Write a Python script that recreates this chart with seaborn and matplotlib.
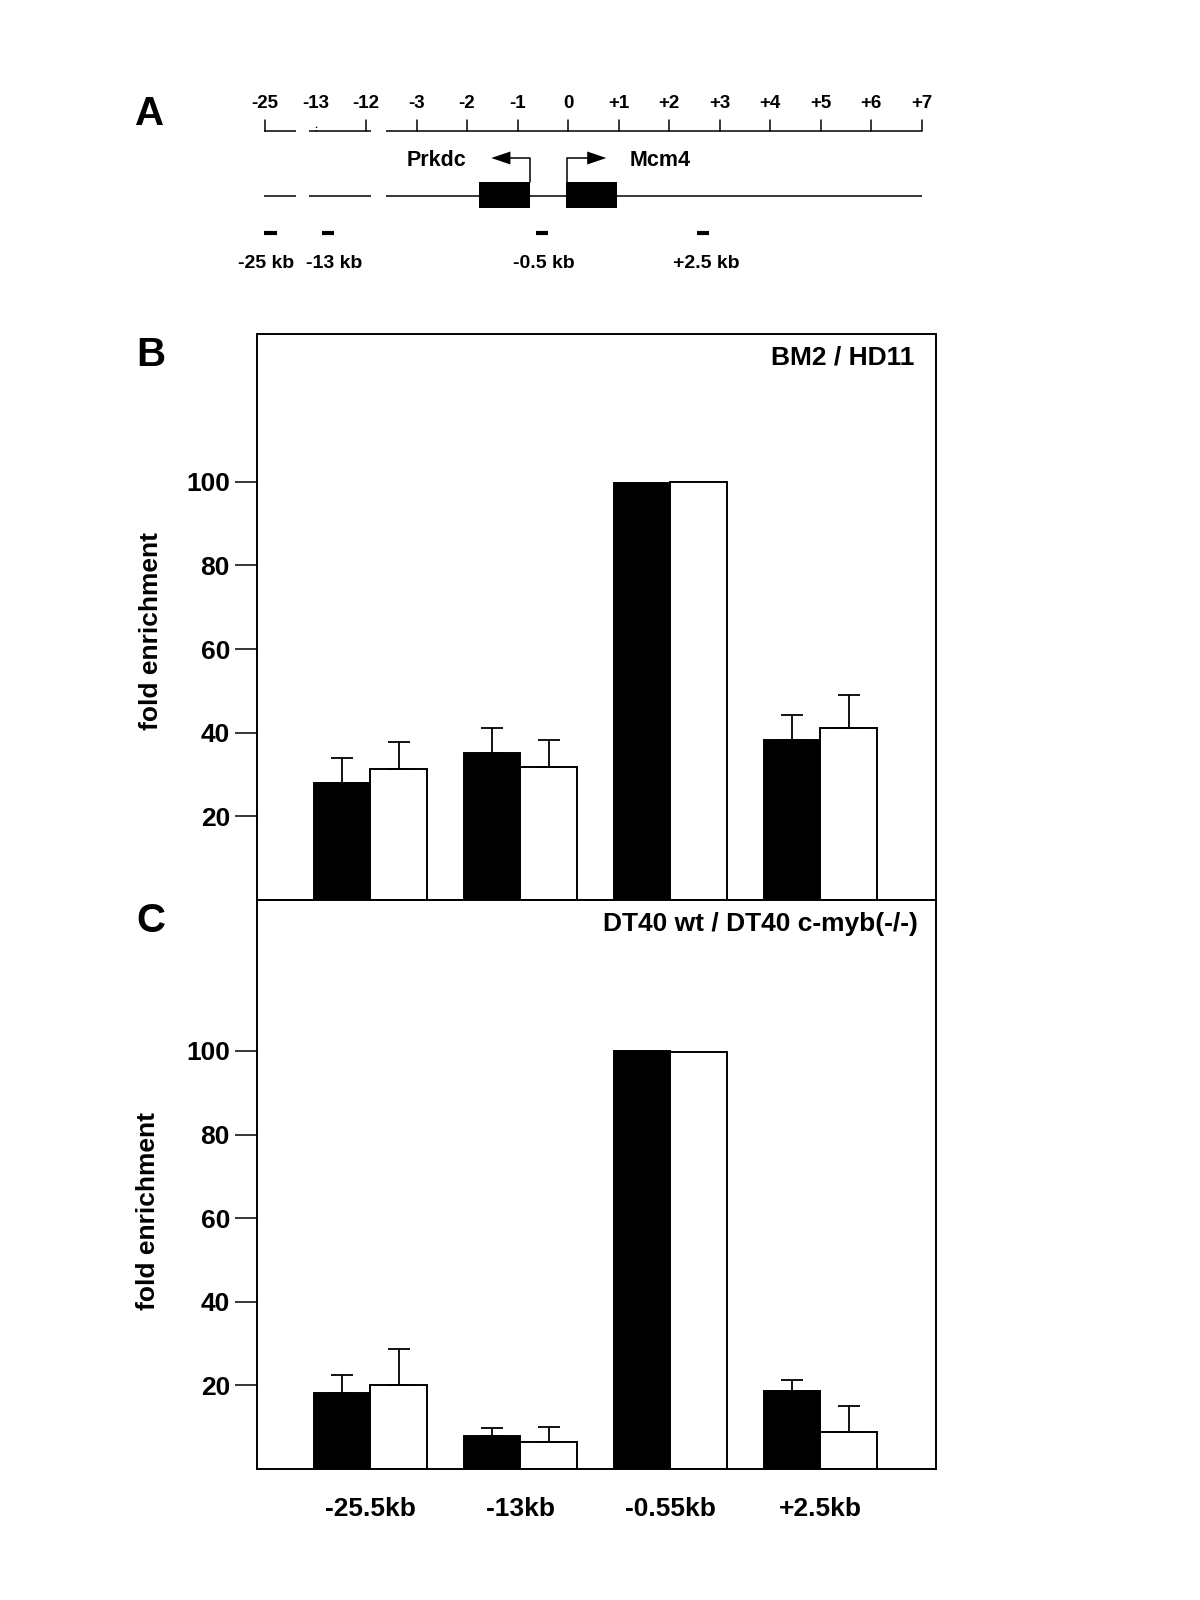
import numpy as np
import pandas as pd
import matplotlib
matplotlib.use("Agg")
import matplotlib.pyplot as plt
import seaborn as sns

# ---------------- data ----------------
regions = ["-25.5kb", "-13kb", "-0.55kb", "+2.5kb"]

b_series = ["BM2", "HD11"]
b_black = [27.9, 35.1, 99.6, 38.2]
b_black_err = [6.0, 5.9, np.nan, 6.0]
b_white = [31.4, 31.8, 100.0, 41.0]
b_white_err = [6.4, 6.4, np.nan, 8.0]

c_series = ["DT40 wt", "DT40 c-myb(-/-)"]
c_black = [18.2, 7.8, 100.0, 18.6]
c_black_err = [4.3, 1.9, np.nan, 2.6]
c_white = [20.2, 6.5, 99.7, 8.9]
c_white_err = [8.4, 3.5, np.nan, 6.2]

yticks = [20, 40, 60, 80, 100]

# panel A map (x in map units; -3..+7 are kb, distant ticks compressed)
ruler_labels = ["-25", "-13", "-12", "-3", "-2", "-1", "0", "+1", "+2", "+3", "+4", "+5", "+6", "+7"]
ruler_pos = [-6, -5, -4, -3, -2, -1, 0, 1, 2, 3, 4, 5, 6, 7]
line_segments = [(-6.01, -5.39), (-5.12, -3.91), (-3.61, 7.0)]
gene_names = ["Prkdc", "Mcm4"]
gene_boxes = [(-1.76, -0.75), (-0.04, 0.97)]
probe_labels = ["-25 kb", "-13 kb", "-0.5 kb", "+2.5 kb"]
probe_spans = [(-6.02, -5.76), (-4.87, -4.63), (-0.63, -0.40), (2.55, 2.79)]
probe_label_pos = [-5.98, -4.63, -0.48, 2.73]

# ---------------- style ----------------
sns.set_style("white")
plt.rcParams["font.family"] = ["Liberation Sans", "DejaVu Sans"]
plt.rcParams["font.weight"] = "bold"
plt.rcParams["text.color"] = "black"
plt.rcParams["axes.labelcolor"] = "black"
plt.rcParams["xtick.color"] = "black"
plt.rcParams["ytick.color"] = "black"

fig = plt.figure(figsize=(12, 16), dpi=100)
W, H = 1200.0, 1600.0


def px_axes(x0, y0, x1, y1):
    return fig.add_axes([x0 / W, 1 - y1 / H, (x1 - x0) / W, (y1 - y0) / H])


def bar_panel(ax, series, black, black_err, white, white_err, ytop, title, show_x):
    df = pd.DataFrame({
        "region": regions * 2,
        "series": [series[0]] * len(regions) + [series[1]] * len(regions),
        "value": list(black) + list(white),
    })
    sns.barplot(data=df, x="region", y="value", hue="series", hue_order=series,
                palette=["black", "white"], edgecolor="black", linewidth=1.4,
                errorbar=None, width=0.75, gap=0, legend=False, ax=ax,
                saturation=1)
    for cont, errs in zip(ax.containers, [black_err, white_err]):
        xs = [b.get_x() + b.get_width() / 2 for b in cont]
        ys = [b.get_height() for b in cont]
        e = np.array(errs, dtype=float)
        ok = ~np.isnan(e)
        ax.errorbar(np.array(xs)[ok], np.array(ys)[ok],
                    yerr=[np.zeros(ok.sum()), e[ok]], fmt="none",
                    ecolor="black", elinewidth=1.3, capsize=8.2, capthick=1.3,
                    zorder=1)
    ax.set_xlim(-0.756, 3.77)
    ax.set_ylim(0, ytop)
    ax.set_yticks(yticks)
    ax.set_yticklabels([str(t) for t in yticks], fontsize=19, fontweight="bold",
                       color="black")
    ax.tick_params(axis="y", left=True, length=16, width=1.1, pad=3.5,
                   direction="out", color="black")
    ax.set_xlabel("")
    ax.set_ylabel("fold enrichment", fontsize=19, fontweight="bold", color="black")
    for s in ax.spines.values():
        s.set_visible(True)
        s.set_color("black")
        s.set_linewidth(1.4)
    if show_x:
        ax.tick_params(axis="x", bottom=False, length=0, pad=20)
        ax.set_xticks(range(len(regions)))
        ax.set_xticklabels(regions, fontsize=19, fontweight="bold", color="black")
    else:
        ax.set_xticks([])
    ax.text(0.9676 if not show_x else 0.974, 0.958, title, transform=ax.transAxes,
            ha="right", va="center", fontsize=19, fontweight="bold", color="black")


# ---------------- panel B ----------------
axB = px_axes(257, 334, 936, 900)
bar_panel(axB, b_series, b_black, b_black_err, b_white, b_white_err, 135.3,
          "BM2 / HD11", False)
axB.yaxis.set_label_coords(-0.138, 0.475)

# ---------------- panel C ----------------
axC = px_axes(257, 900, 936, 1469)
bar_panel(axC, c_series, c_black, c_black_err, c_white, c_white_err, 136.1,
          "DT40 wt / DT40 c-myb(-/-)", True)
axC.yaxis.set_label_coords(-0.143, 0.454)

# ---------------- panel A (map) ----------------
axA = px_axes(200, 60, 960, 300)
axA.set_xlim((200 - 568) / 50.5, (960 - 568) / 50.5)
axA.set_ylim(300, 60)
axA.axis("off")

RULER_Y, TICK_TOP, LABEL_Y = 131, 120, 103
GENE_Y, BOX_TOP, BOX_BOT, ARROW_Y = 196, 182, 208, 158
PROBE_Y, PROBE_LABEL_Y, NAME_Y = 233, 263, 160
HEAD = 6.5

for a, b in line_segments:
    axA.plot([a, b], [RULER_Y, RULER_Y], color="black", lw=1.1, solid_capstyle="butt")
    axA.plot([a, b], [GENE_Y, GENE_Y], color="black", lw=1.1, solid_capstyle="butt")
for lab, p in zip(ruler_labels, ruler_pos):
    if lab == "-13":
        axA.plot([p, p], [RULER_Y, TICK_TOP + 5], color="black", lw=1.0, ls=(0, (1, 1.5)))
    else:
        axA.plot([p, p], [RULER_Y, TICK_TOP], color="black", lw=1.1)
    axA.text(p, LABEL_Y, lab, ha="center", va="center", fontsize=13.5, fontweight="bold")

for (a, b) in gene_boxes:
    axA.fill([a, b, b, a], [BOX_TOP, BOX_TOP, BOX_BOT, BOX_BOT], color="black", lw=0)

# Prkdc arrow (leftward) and Mcm4 arrow (rightward)
axA.plot([-0.75, -0.75, -1.16], [BOX_TOP, ARROW_Y, ARROW_Y], color="black", lw=1.1)
axA.fill([-1.52, -1.14, -1.14], [ARROW_Y, ARROW_Y - HEAD, ARROW_Y + HEAD], color="black", lw=0)
axA.plot([-0.02, -0.02, 0.40], [BOX_TOP, ARROW_Y, ARROW_Y], color="black", lw=1.1)
axA.fill([0.76, 0.38, 0.38], [ARROW_Y, ARROW_Y - HEAD, ARROW_Y + HEAD], color="black", lw=0)
axA.text(-2.6, NAME_Y, gene_names[0], ha="center", va="center", fontsize=15.5, fontweight="bold")
axA.text(1.83, NAME_Y, gene_names[1], ha="center", va="center", fontsize=15.5, fontweight="bold")

for (a, b), lab, lp in zip(probe_spans, probe_labels, probe_label_pos):
    axA.plot([a, b], [PROBE_Y, PROBE_Y], color="black", lw=3, solid_capstyle="butt")
    axA.text(lp, PROBE_LABEL_Y, lab, ha="center", va="center", fontsize=14, fontweight="bold")

# panel letters
for letter, (x, y) in zip(["A", "B", "C"], [(150, 114), (151, 355), (151, 921)]):
    fig.text(x / W, 1 - y / H, letter, ha="center", va="center", fontsize=29, fontweight="bold")

fig.savefig("out.png", dpi=100, facecolor="white")
